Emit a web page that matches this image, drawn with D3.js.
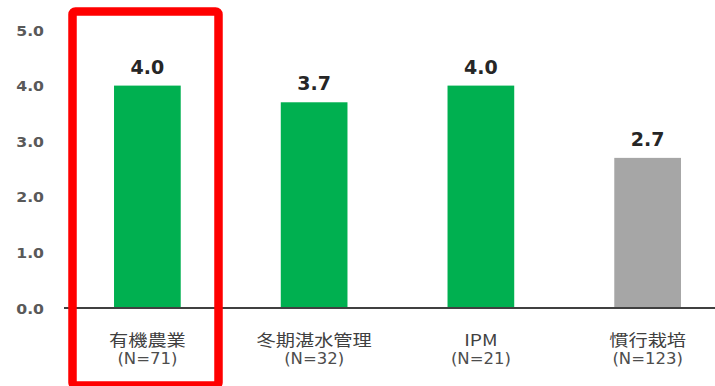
<!DOCTYPE html>
<html>
<head>
<meta charset="utf-8">
<script src="https://cdn.jsdelivr.net/npm/d3@7"></script>
<style>
  html, body { margin: 0; padding: 0; background: #ffffff; }
  svg { display: block; }
</style>
</head>
<body>
<svg id="chart" width="715" height="386"></svg>
<script>
// Chart data
const categories = ["有機農業", "冬期湛水管理", "IPM", "慣行栽培"];
const sampleSizes = ["(N=71)", "(N=32)", "(N=21)", "(N=123)"];
const scores = [4.0, 3.7, 4.0, 2.7];
const barColors = ["#00b050", "#00b050", "#00b050", "#a6a6a6"];
const yTicks = [0, 1, 2, 3, 4, 5];

const svg = d3.select("#chart");

const x = d3.scaleBand()
  .domain(categories)
  .range([64, 731])
  .paddingInner(0.6)
  .paddingOuter(0.3);

const y = d3.scaleLinear()
  .domain([0, 5])
  .range([308, 30]);

// Y axis labels (no line, no ticks)
const yAxis = d3.axisLeft(y)
  .tickValues(yTicks)
  .tickFormat(d3.format(".1f"))
  .tickSize(0)
  .tickPadding(0);

const gy = svg.append("g")
  .attr("transform", "translate(44,0)")
  .call(yAxis);
gy.select(".domain").remove();
gy.selectAll("text")
  .attr("dy", "0.36em")
  .attr("transform", "scale(1.12,1)")
  .attr("fill", "#595959")
  .style("font-family", "'DejaVu Sans', Verdana, sans-serif")
  .style("font-weight", "bold")
  .style("font-size", "14px");

// Bars
svg.append("g")
  .selectAll("rect")
  .data(categories)
  .join("rect")
  .attr("x", d => x(d))
  .attr("y", (d, i) => y(scores[i]))
  .attr("width", x.bandwidth())
  .attr("height", (d, i) => y(0) - y(scores[i]))
  .attr("fill", (d, i) => barColors[i]);

// Baseline
svg.append("line")
  .attr("x1", 64)
  .attr("x2", 715)
  .attr("y1", y(0))
  .attr("y2", y(0))
  .attr("stroke", "#404040")
  .attr("stroke-width", 2);

// Value labels above bars
svg.append("g")
  .selectAll("text")
  .data(categories)
  .join("text")
  .attr("x", d => x(d) + x.bandwidth() / 2)
  .attr("y", (d, i) => y(scores[i]) - 12)
  .attr("text-anchor", "middle")
  .attr("fill", "#262626")
  .style("font-family", "'DejaVu Sans', Verdana, sans-serif")
  .style("font-weight", "bold")
  .style("font-size", "19px")
  .text((d, i) => d3.format(".1f")(scores[i]));

// Category labels, two lines each
const cat = svg.append("g")
  .selectAll("g")
  .data(categories)
  .join("g")
  .attr("transform", d => `translate(${x(d) + x.bandwidth() / 2},0)`);

cat.append("text")
  .attr("transform", "translate(0,346) scale(1.2,1)")
  .attr("text-anchor", "middle")
  .attr("fill", "#404040")
  .style("font-family", "'Noto Sans CJK JP', 'DejaVu Sans', sans-serif")
  .style("font-size", "16px")
  .text(d => d);

cat.append("text")
  .attr("transform", "translate(0,364) scale(1.1,1)")
  .attr("text-anchor", "middle")
  .attr("fill", "#4d4d4d")
  .style("font-family", "'DejaVu Sans', Verdana, sans-serif")
  .style("font-size", "15px")
  .text((d, i) => sampleSizes[i]);

// Highlight frame around the first category
svg.append("rect")
  .attr("x", 72.5)
  .attr("y", 11.5)
  .attr("width", 146)
  .attr("height", 374)
  .attr("rx", 3)
  .attr("fill", "none")
  .attr("stroke", "#ff0000")
  .attr("stroke-width", 8.5);
</script>
</body>
</html>
